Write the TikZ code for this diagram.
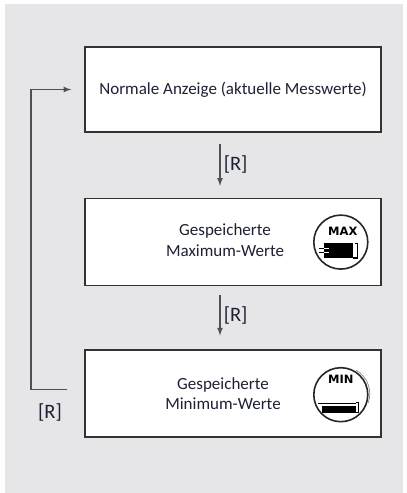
\documentclass[tikz,border=0pt]{standalone}
\usepackage{fontspec}
\setmainfont{Carlito}
\newfontfamily\iconfont{DejaVu Sans}
\usetikzlibrary{arrows}
\usetikzlibrary{positioning}
\definecolor{bggrey}{RGB}{230,230,232}
\definecolor{txtblue}{RGB}{30,33,52}
\definecolor{linegrey}{RGB}{80,80,84}
\tikzset{
	box/.style={draw=black!80,line width=1.6pt,fill=white,minimum width=296pt,inner sep=0pt},
	txt/.style={text=txtblue,font=\fontsize{17}{20.5}\selectfont,align=center,inner sep=0pt},
	lbl/.style={text=txtblue,font=\fontsize{20.5}{22}\selectfont,inner sep=1pt},
	flow/.style={draw=linegrey,line width=1.6pt,-latex},
	icontxt/.style={font=\iconfont\bfseries\fontsize{11.5}{11.5}\selectfont,inner sep=0pt},
	maxicon/.pic={
		\draw[line width=1.6pt,black!85] (0,0) circle (27pt);
		\node[icontxt] (-t) at (2,11) {MAX};
		\fill[black] (-17,-16) rectangle (12,-1);
		\draw[white,line width=0.9pt] (-17,-6) -- (-12,-6) (-17,-10) -- (-12,-10);
		\draw[black,line width=0.9pt] (-22,-6) -- (-17,-6) (-22,-10) -- (-17,-10);
		\draw[black,line width=1.2pt] (14,-1.5) -- (17,-1.5) -- (17,-16) -- (12,-16);
	},
	minicon/.pic={
		\draw[line width=1.6pt,black!85] (0,0) circle (27pt);
		\draw[black!45,line width=0.7pt] (2,1) ++(-20:27pt) arc (-20:60:27pt);
		\node[icontxt] (-t) at (0,15) {MIN};
		\draw[black,line width=1pt] (-23,-9) -- (15,-9);
		\fill[black] (-19,-18) rectangle (15,-11);
		\draw[black,line width=1.2pt] (15,-7.5) -- (18,-7.5) -- (18,-18) -- (15,-18);
	}
}
\begin{document}
\begin{tikzpicture}[x=1pt,y=1pt]

	% grey panel behind the three states
	\fill[white] (0,0) rectangle (407,493);
	\useasboundingbox (0,0) rectangle (407,493);
	\fill[bggrey] (5,0) rectangle (403,489);

	\node[box,minimum height=85pt] (a) at (233,403.5) {};
	\node[box,minimum height=87pt,below=65pt of a] (b) {};
	\node[box,minimum height=87pt,below=63pt of b] (c) {};

	\node[txt] (at) at (a.center) {Normale Anzeige (aktuelle Messwerte)};
	\node[txt] (bt) at ([xshift=-8pt,yshift=2pt]b.center) {Gespeicherte\\Maximum-Werte};
	\node[txt] (ct) at ([xshift=-10pt]c.center) {Gespeicherte\\Minimum-Werte};

	\pic (mx) at ([xshift=-41pt]b.east) {maxicon};
	\pic (mn) at ([xshift=-41pt,yshift=-1pt]c.east) {minicon};

	\draw[flow] ([xshift=-13pt,yshift=-11pt]a.south) -- node[lbl,right=2pt] (r1) {[R]} ([xshift=-13pt,yshift=12pt]b.north);
	\draw[flow] ([xshift=-13pt,yshift=-9pt]b.south) -- node[lbl,right=2pt] (r2) {[R]} ([xshift=-13pt,yshift=14pt]c.north);
	\draw[flow] ([xshift=-17pt,yshift=4pt]c.west) -- ++(-36,0) |- ([xshift=-13pt]a.west);
	\node[lbl] (r3) at (50,81) {[R]};

\end{tikzpicture}
\end{document}
